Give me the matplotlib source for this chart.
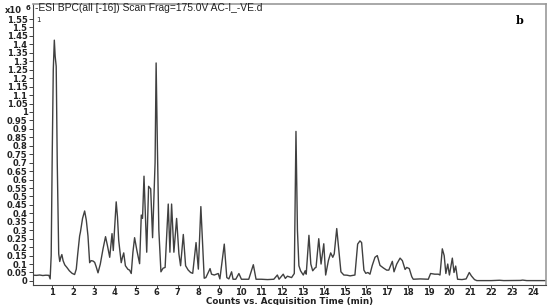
import matplotlib
matplotlib.use("Agg")
import matplotlib.pyplot as plt
import numpy as np

# Cromatograma BPC (tiempo en min, cuentas x10^6)
tiempos = [
    0.08, 0.25, 0.40, 0.55, 0.70, 0.84, 0.90, 0.95, 1.00, 1.05,
    1.10, 1.14, 1.19, 1.24, 1.31, 1.36, 1.41, 1.46, 1.52, 1.60,
    1.70, 1.82, 1.95, 2.07, 2.15, 2.22, 2.31, 2.35, 2.45, 2.55,
    2.63, 2.71, 2.79, 2.86, 2.95, 3.03, 3.10, 3.19, 3.30, 3.43,
    3.55, 3.64, 3.75, 3.86, 3.92, 3.98, 4.06, 4.12, 4.18, 4.30,
    4.36, 4.42, 4.50, 4.62, 4.70, 4.78, 4.86, 4.94, 5.05, 5.18,
    5.26, 5.32, 5.39, 5.52, 5.61, 5.71, 5.80, 5.87, 5.92, 5.97,
    6.03, 6.10, 6.20, 6.30, 6.40, 6.55, 6.63, 6.71, 6.82, 6.95,
    7.06, 7.14, 7.27, 7.38, 7.50, 7.62, 7.72, 7.88, 7.99, 8.11,
    8.27, 8.35, 8.55, 8.62, 8.75, 8.94, 9.02, 9.23, 9.35, 9.45,
    9.58, 9.65, 9.78, 9.93, 10.05, 10.40, 10.62, 10.75, 11.00, 11.30,
    11.60, 11.77, 11.85, 12.05, 12.15, 12.25, 12.45, 12.58, 12.66, 12.73,
    12.80, 12.88, 13.01, 13.10, 13.15, 13.28, 13.37, 13.46, 13.57, 13.62,
    13.75, 13.86, 13.99, 14.08, 14.21, 14.32, 14.42, 14.49, 14.61, 14.72,
    14.81, 14.95, 15.10, 15.25, 15.48, 15.61, 15.72, 15.80, 15.91, 16.00,
    16.10, 16.20, 16.31, 16.44, 16.55, 16.68, 16.84, 17.00, 17.10, 17.27,
    17.35, 17.48, 17.64, 17.75, 17.88, 17.96, 18.08, 18.20, 18.27, 18.60,
    18.99, 19.10, 19.30, 19.47, 19.55, 19.66, 19.75, 19.83, 19.92, 20.00,
    20.14, 20.22, 20.30, 20.39, 20.60, 20.80, 20.95, 21.05, 21.20, 21.31,
    22.00, 22.40, 22.60, 23.40, 23.50, 23.70, 24.62,
]
cuentas = [
    0.034, 0.033, 0.035, 0.032, 0.034, 0.033, 0.012, 0.15, 0.75, 1.25,
    1.425, 1.33, 1.27, 0.70, 0.16, 0.115, 0.14, 0.156, 0.12, 0.095,
    0.08, 0.06, 0.045, 0.038, 0.07, 0.16, 0.266, 0.29, 0.37, 0.414,
    0.36, 0.266, 0.108, 0.12, 0.118, 0.11, 0.085, 0.048, 0.10, 0.19,
    0.262, 0.21, 0.14, 0.28, 0.18, 0.30, 0.468, 0.38, 0.24, 0.108,
    0.14, 0.166, 0.09, 0.069, 0.064, 0.044, 0.17, 0.256, 0.18, 0.102,
    0.39, 0.37, 0.62, 0.17, 0.56, 0.545, 0.256, 0.52, 0.70, 1.29,
    0.80, 0.30, 0.054, 0.075, 0.08, 0.455, 0.17, 0.455, 0.17, 0.37,
    0.16, 0.09, 0.275, 0.09, 0.065, 0.05, 0.045, 0.227, 0.07, 0.44,
    0.016, 0.02, 0.073, 0.04, 0.035, 0.044, 0.012, 0.218, 0.02, 0.012,
    0.054, 0.01, 0.01, 0.044, 0.01, 0.01, 0.096, 0.01, 0.01, 0.008,
    0.01, 0.035, 0.01, 0.04, 0.015, 0.028, 0.02, 0.044, 0.885, 0.30,
    0.09, 0.06, 0.035, 0.06, 0.04, 0.27, 0.10, 0.06, 0.077, 0.08,
    0.25, 0.10, 0.22, 0.035, 0.12, 0.166, 0.14, 0.16, 0.31, 0.17,
    0.054, 0.035, 0.034, 0.03, 0.035, 0.218, 0.237, 0.227, 0.064, 0.045,
    0.05, 0.04, 0.092, 0.14, 0.15, 0.092, 0.077, 0.064, 0.064, 0.116,
    0.054, 0.10, 0.135, 0.12, 0.068, 0.08, 0.073, 0.025, 0.01, 0.012,
    0.01, 0.044, 0.04, 0.04, 0.035, 0.19, 0.15, 0.044, 0.10, 0.035,
    0.135, 0.05, 0.088, 0.01, 0.008, 0.012, 0.05, 0.03, 0.008, 0.002,
    0.002, 0.004, 0.002, 0.003, 0.005, 0.002, 0.002,
]

marcas_y = np.round(np.arange(0, 1.5501, 0.05), 2)
marcas_x = list(range(1, 25))

fig = plt.figure(figsize=(5.5, 3.05), dpi=100)
ax = fig.add_axes([0.06, 0.0656, 0.9327, 0.9213])

ax.plot(tiempos, cuentas, color='#404040', linewidth=1.0)

ax.set_xlim(0.08, 24.62)
ax.set_ylim(-0.024, 1.639)

ax.set_yticks(marcas_y)
ax.set_yticklabels([f'{m:g}' for m in marcas_y])
ax.set_xticks(marcas_x)
ax.tick_params(axis='both', direction='out', width=0.6, labelsize=6, colors='#222222')
ax.tick_params(axis='y', length=3, pad=1)
ax.tick_params(axis='x', length=2, pad=0.3)
for lbl in ax.get_xticklabels() + ax.get_yticklabels():
    lbl.set_fontweight('bold')

ax.set_xlabel('Counts vs. Acquisition Time (min)', fontsize=6.3, fontweight='bold',
              labelpad=0, color='#222222')

for lado in ['left', 'bottom']:
    ax.spines[lado].set_color('#444444')
    ax.spines[lado].set_linewidth(0.8)
for lado in ['top', 'right']:
    ax.spines[lado].set_color('#999999')
    ax.spines[lado].set_linewidth(1.2)

# Textos de cabecera
fig.text(0.008, 0.958, 'x10', fontsize=6, fontweight='bold', color='#222222')
fig.text(0.046, 0.968, '6', fontsize=5, fontweight='bold', color='#222222')
fig.text(0.064, 0.963, '-ESI BPC(all [-16]) Scan Frag=175.0V AC-I_-VE.d',
         fontsize=7.4, family='Liberation Sans', color='#222222')
fig.text(0.066, 0.928, '1', fontsize=5, color='#222222')
fig.text(0.938, 0.92, 'b', fontsize=8, fontweight='bold', family='DejaVu Serif')

plt.savefig('out.png', dpi=100)
